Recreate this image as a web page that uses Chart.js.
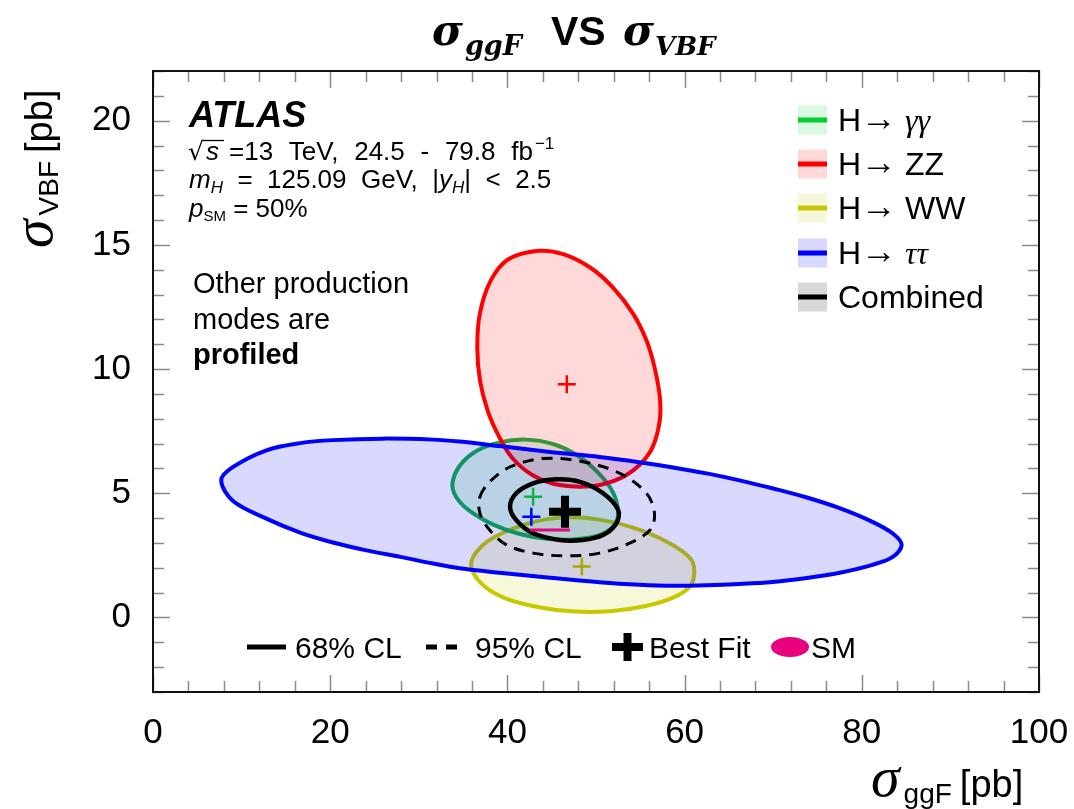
<!DOCTYPE html>
<html><head><meta charset="utf-8">
<script src="https://cdn.jsdelivr.net/npm/chart.js@4.4.0/dist/chart.umd.min.js"></script>
<style>html,body{margin:0;padding:0;background:#fff}#wrap{width:1074px;height:809px;position:relative}</style>
</head><body><div id="wrap"><canvas id="c" width="1074" height="809"></canvas></div>
<script>
// ---------- axis / tick data ----------
const xRange = [0, 100];
const yRange = [-3, 22];
const xTickValues = [0, 20, 40, 60, 80, 100];
const yTickValues = [0, 5, 10, 15, 20];
const xMinorStep = 4, xMajorStep = 20;
const yMinorStep = 1, yMajorStep = 5;

// ---------- 68% CL contours (x = sigma_ggF, y = sigma_VBF) ----------
const tautauX = [7.7, 9.0, 12.8, 16.6, 20.3, 25.9, 31.6, 34.6, 39.1, 44.8, 50.4, 54.9, 58.7, 62.5, 66.2, 69.9, 73.8, 77.5, 81.2, 83.5, 84.5, 83.5, 81.2, 77.5, 73.8, 69.9, 66.2, 62.5, 58.7, 54.9, 50.4, 44.8, 39.1, 34.6, 31.6, 27.9, 24.1, 20.3, 16.6, 12.8, 9.0];
const tautauY = [5.53, 6.05, 6.73, 7.02, 7.14, 7.20, 7.16, 7.08, 6.90, 6.66, 6.46, 6.25, 6.04, 5.80, 5.52, 5.20, 4.83, 4.40, 3.85, 3.38, 2.92, 2.44, 2.12, 1.80, 1.59, 1.43, 1.35, 1.30, 1.28, 1.32, 1.42, 1.60, 1.80, 1.98, 2.17, 2.44, 2.70, 3.02, 3.42, 3.98, 4.70];
const zzX = [43.5, 46.3, 49.3, 51.9, 54.2, 55.7, 56.6, 57.2, 57.2, 56.4, 54.9, 52.7, 49.7, 45.9, 42.9, 40.6, 39.1, 37.8, 36.9, 36.6, 36.9, 38.1, 40.1];
const zzY = [14.76, 14.63, 14.10, 13.29, 12.22, 11.15, 10.08, 8.88, 7.94, 6.87, 6.14, 5.60, 5.29, 5.33, 5.72, 6.40, 7.25, 8.30, 9.55, 10.88, 12.25, 13.55, 14.42];
const gamgamX = [33.8, 34.6, 36.5, 39.1, 42.1, 45.2, 47.8, 50.1, 51.9, 52.5, 51.9, 50.1, 47.4, 44.4, 41.4, 38.4, 35.7, 34.2];
const gamgamY = [5.40, 6.10, 6.70, 7.05, 7.16, 6.98, 6.55, 5.88, 5.05, 4.19, 3.65, 3.28, 3.14, 3.17, 3.36, 3.74, 4.30, 4.86];
const wwX = [35.9, 36.9, 39.1, 42.9, 46.7, 50.4, 54.2, 58.0, 60.6, 61.1, 60.6, 58.7, 55.5, 51.6, 47.6, 43.7, 39.7, 37.1];
const wwY = [2.12, 2.80, 3.34, 3.84, 4.03, 3.94, 3.62, 3.05, 2.40, 1.84, 1.25, 0.80, 0.45, 0.25, 0.24, 0.40, 0.78, 1.35];
const comb68X = [40.3, 41.0, 42.9, 45.5, 48.2, 50.8, 52.5, 52.3, 50.8, 48.5, 45.9, 42.9, 41.0];
const comb68Y = [4.46, 5.00, 5.40, 5.56, 5.46, 5.00, 4.33, 3.79, 3.32, 3.12, 3.12, 3.39, 3.92];
const comb95X = [36.9, 38.0, 40.3, 44.0, 48.5, 52.7, 55.7, 56.6, 56.1, 53.8, 50.4, 46.7, 42.9, 39.9, 38.0, 36.9];
const comb95Y = [4.86, 5.46, 6.06, 6.40, 6.27, 5.80, 5.00, 4.19, 3.52, 2.99, 2.59, 2.48, 2.59, 2.92, 3.52, 4.19];

// ---------- best-fit points and SM ----------
const bestCombined = [46.5, 4.26];
const bestGamGam = [42.9, 4.86];
const bestTauTau = [42.7, 4.06];
const bestWW = [48.4, 2.05];
const bestZZ = [46.7, 9.39];
const smPoint = [44.8, 3.52];

// ---------- colours ----------
const C = {
  gg: '#12b04a', ggLeg: '#00cc33', ggFill: 'rgba(0,200,60,0.15)',
  zz: '#ff0000', zzFill: 'rgba(255,0,0,0.15)',
  ww: '#c8c800', wwFill: 'rgba(204,204,0,0.15)',
  tt: '#0000ff', ttFill: 'rgba(0,0,255,0.15)',
  comb: '#000000', combFill: 'rgba(0,0,0,0.15)',
  sm: '#e8007f'
};

const zip = (xs, ys) => xs.map((x, i) => ({x, y: ys[i]}));
function contour(label, xs, ys, color, fill, order, extra) {
  return Object.assign({
    label, data: zip(xs, ys), showLine: true, borderColor: color,
    backgroundColor: fill || 'rgba(0,0,0,0)', fill: fill ? 'shape' : false,
    borderWidth: 4, pointRadius: 0, pointHoverRadius: 0, tension: 0.34, closed: true, order
  }, extra || {});
}
function marker(label, pt, color, radius, width, order, style) {
  return {
    label, data: [{x: pt[0], y: pt[1]}], showLine: false, pointStyle: style || 'cross',
    pointRadius: radius, pointHoverRadius: radius, pointBorderWidth: width, borderWidth: width,
    borderColor: color, backgroundColor: color, order
  };
}

const datasets = [
  marker('Best fit combined', bestCombined, '#000', 16, 8, 0),
  marker('Best fit gg', bestGamGam, C.gg, 9, 2.5, 1),
  marker('Best fit tt', bestTauTau, C.tt, 9, 2.5, 1),
  marker('Best fit WW', bestWW, '#a8a800', 9, 2.5, 1),
  marker('Best fit ZZ', bestZZ, C.zz, 9, 2.5, 1),
  marker('SM', smPoint, C.sm, 20, 3, 2, 'line'),
  contour('Combined 68%', comb68X, comb68Y, C.comb, null, 3, {borderWidth: 4.5}),
  contour('Combined 95%', comb95X, comb95Y, C.comb, null, 4, {borderWidth: 3, borderDash: [11, 8]}),
  contour('H→ττ', tautauX, tautauY, C.tt, C.ttFill, 5),
  contour('H→ZZ', zzX, zzY, C.zz, C.zzFill, 6),
  contour('H→γγ', gamgamX, gamgamY, C.gg, C.ggFill, 7),
  contour('H→WW', wwX, wwY, C.ww, C.wwFill, 8)
];

// close contours smoothly (loop) like a radar line
const loopPlugin = {
  id: 'loopPlugin',
  afterDatasetUpdate(chart, args) {
    const ds = chart.data.datasets[args.index];
    const line = args.meta.dataset;
    if (ds.closed && line) {
      line._loop = true; line._fullLoop = true;
      delete line._segments; delete line._path; line._pointsUpdated = false;
    }
  }
};

function txt(ctx, s, x, y, font, color, align) {
  ctx.font = font; ctx.fillStyle = color || '#000'; ctx.textAlign = align || 'left'; ctx.textBaseline = 'alphabetic';
  ctx.fillText(s, x, y);
  return ctx.measureText(s).width;
}
// draw consecutive runs of text: [text, font, dy]
function runs(ctx, x, y, list) {
  ctx.fillStyle = '#000'; ctx.textAlign = 'left'; ctx.textBaseline = 'alphabetic';
  for (const [s, font, dy] of list) {
    ctx.font = font; ctx.fillText(s, x, y + (dy || 0));
    x += ctx.measureText(s).width;
  }
  return x;
}
const SANS = '"Liberation Sans", Arial, sans-serif';
const SERIF = '"Liberation Serif", "Times New Roman", serif';
const DSERIF = '"DejaVu Serif", serif';

const decor = {
  id: 'decor',
  afterDraw(chart) {
    const ctx = chart.ctx, a = chart.chartArea, xs = chart.scales.x, ys = chart.scales.y;
    ctx.save();
    // inward tick marks on all four sides
    ctx.strokeStyle = '#8a8a8a'; ctx.lineWidth = 1.5;
    ctx.beginPath();
    for (let v = xRange[0]; v <= xRange[1] + 1e-9; v += xMinorStep) {
      const px = Math.round(xs.getPixelForValue(v)) + 0.5;
      const len = (v % xMajorStep === 0) ? 17 : 11;
      ctx.moveTo(px, a.bottom); ctx.lineTo(px, a.bottom - len);
      ctx.moveTo(px, a.top); ctx.lineTo(px, a.top + len);
    }
    for (let v = yRange[0]; v <= yRange[1] + 1e-9; v += yMinorStep) {
      const py = Math.round(ys.getPixelForValue(v)) + 0.5;
      const len = (((v % yMajorStep) + yMajorStep) % yMajorStep === 0) ? 17 : 11;
      ctx.moveTo(a.left, py); ctx.lineTo(a.left + len, py);
      ctx.moveTo(a.right, py); ctx.lineTo(a.right - len, py);
    }
    ctx.stroke();
    // frame
    ctx.strokeStyle = '#111'; ctx.lineWidth = 2;
    ctx.strokeRect(a.left, a.top, a.right - a.left, a.bottom - a.top);

    // ---- title ----
    let e = runs(ctx, 432, 45, [['σ', 'italic bold 42px ' + DSERIF]]);
    runs(ctx, e + 2, 55, [['ggF', 'italic bold 27px ' + DSERIF]]);
    txt(ctx, 'VS', 551, 45, 'bold 41px ' + SANS);
    e = runs(ctx, 623, 45, [['σ', 'italic bold 42px ' + DSERIF]]);
    runs(ctx, e + 1, 55, [['VBF', 'italic bold 26px ' + DSERIF]]);

    // ---- axis titles ----
    e = runs(ctx, 871, 796, [['σ', 'italic 58px ' + SERIF]]);
    e = runs(ctx, e + 4, 803, [['ggF', '28px ' + SANS]]);
    runs(ctx, e + 8, 797, [['[pb]', '38px ' + SANS]]);

    ctx.save();
    ctx.translate(52, 248); ctx.rotate(-Math.PI / 2);
    e = runs(ctx, 0, 0, [['σ', 'italic 58px ' + SERIF]]);
    e = runs(ctx, e + 4, 6, [['VBF', '28px ' + SANS]]);
    runs(ctx, e + 8, 0, [['[pb]', '38px ' + SANS]]);
    ctx.restore();

    // ---- ATLAS label block ----
    txt(ctx, 'ATLAS', 189, 127, 'italic bold 36px ' + SANS);
    const f26 = '26px ' + SANS, i26 = 'italic 26px ' + SANS, sub = 'italic 17px ' + SANS;
    txt(ctx, '√', 188, 160, '25px "DejaVu Sans", sans-serif');
    txt(ctx, 's', 206, 160, i26);
    ctx.strokeStyle = '#000'; ctx.lineWidth = 1.3;
    ctx.beginPath(); ctx.moveTo(203, 140.5); ctx.lineTo(224, 140.5); ctx.stroke();
    // rest of line spread to its measured extent
    ctx.font = f26;
    const rest = '=13 TeV, 24.5 - 79.8 fb';
    const natural = ctx.measureText(rest).width;
    const extra = Math.max(0, (533 - 229 - natural) / 5);
    ctx.wordSpacing = extra.toFixed(1) + 'px';
    const rw = ctx.measureText(rest).width;
    ctx.fillStyle = '#000'; ctx.fillText(rest, 229, 160);
    ctx.wordSpacing = '0px';
    txt(ctx, '−1', 229 + rw + 2, 149, '17px ' + SANS);

    runs(ctx, 189, 188, [
      ['m', i26], ['H', sub, 5], ['  =  125.09  GeV,  |', f26], ['y', i26], ['H', sub, 5], ['|  <  2.5', f26]
    ]);
    runs(ctx, 189, 217, [['p', i26], ['SM', '15px ' + SANS, 4], [' = 50%', f26]]);

    txt(ctx, 'Other production', 193, 293, '29px ' + SANS);
    txt(ctx, 'modes are', 193, 329, '29px ' + SANS);
    txt(ctx, 'profiled', 193, 364, 'bold 29px ' + SANS);

    // ---- top-right legend ----
    const legRows = [
      {line: C.ggLeg, fill: C.ggFill, sym: 'γγ', font: 'italic 32px ' + SERIF},
      {line: C.zz, fill: C.zzFill, sym: 'ZZ', font: '32px ' + SANS},
      {line: C.ww, fill: C.wwFill, sym: 'WW', font: '32px ' + SANS},
      {line: C.tt, fill: C.ttFill, sym: 'ττ', font: 'italic 32px ' + SERIF},
      {line: C.comb, fill: C.combFill, sym: null}
    ];
    const rowY = [120, 164, 208, 253, 297];
    legRows.forEach((r, i) => {
      const cy = rowY[i];
      ctx.fillStyle = r.fill; ctx.fillRect(798, cy - 14.5, 29, 29);
      ctx.fillStyle = r.line; ctx.fillRect(798, cy - 2.5, 29, 5);
      if (!r.sym) {
        txt(ctx, 'Combined', 838, cy + 11, '32px ' + SANS);
      } else {
        txt(ctx, 'H', 838, cy + 11, '32px ' + SANS);
        txt(ctx, '→', 861, cy + 10, '36px ' + SERIF);
        txt(ctx, r.sym, 905, cy + 11, r.font);
      }
    });

    // ---- bottom legend ----
    const by = 647;
    ctx.fillStyle = '#000';
    ctx.fillRect(247, by - 2.5, 39, 5);
    txt(ctx, '68% CL', 295, by + 11, '30px ' + SANS);
    ctx.fillRect(426, by - 2.5, 11, 5);
    ctx.fillRect(446, by - 2.5, 11, 5);
    txt(ctx, '95% CL', 475, by + 11, '30px ' + SANS);
    ctx.fillRect(612, by - 4, 31, 8);
    ctx.fillRect(623.5, by - 14, 8, 28);
    txt(ctx, 'Best Fit', 649, by + 11, '30px ' + SANS);
    ctx.fillStyle = C.sm;
    ctx.beginPath(); ctx.ellipse(790, by, 19, 10, 0, 0, Math.PI * 2); ctx.fill();
    txt(ctx, 'SM', 811, by + 11, '30px ' + SANS);

    ctx.restore();
  }
};

new Chart(document.getElementById('c'), {
  type: 'scatter',
  data: {datasets},
  options: {
    responsive: false, animation: false, events: [],
    layout: {padding: {top: 71, right: 35, left: 0, bottom: 0}},
    plugins: {legend: {display: false}, title: {display: false}, tooltip: {enabled: false}},
    scales: {
      x: {
        type: 'linear', min: xRange[0], max: xRange[1],
        grid: {display: false}, border: {display: false},
        ticks: {color: '#000', font: {family: 'Liberation Sans', size: 35}, padding: 12, maxRotation: 0, autoSkip: false},
        afterBuildTicks: s => { s.ticks = xTickValues.map(v => ({value: v})); },
        afterFit: s => { s.height = 117; s.paddingLeft = 0; s.paddingRight = 0; }
      },
      y: {
        type: 'linear', min: yRange[0], max: yRange[1],
        grid: {display: false}, border: {display: false},
        ticks: {color: '#000', font: {family: 'Liberation Sans', size: 35}, padding: 14, autoSkip: false},
        afterBuildTicks: s => { s.ticks = yTickValues.map(v => ({value: v})); },
        afterFit: s => { s.width = 153; s.paddingTop = 0; s.paddingBottom = 0; }
      }
    }
  },
  plugins: [loopPlugin, decor]
});
</script>
</body></html>
